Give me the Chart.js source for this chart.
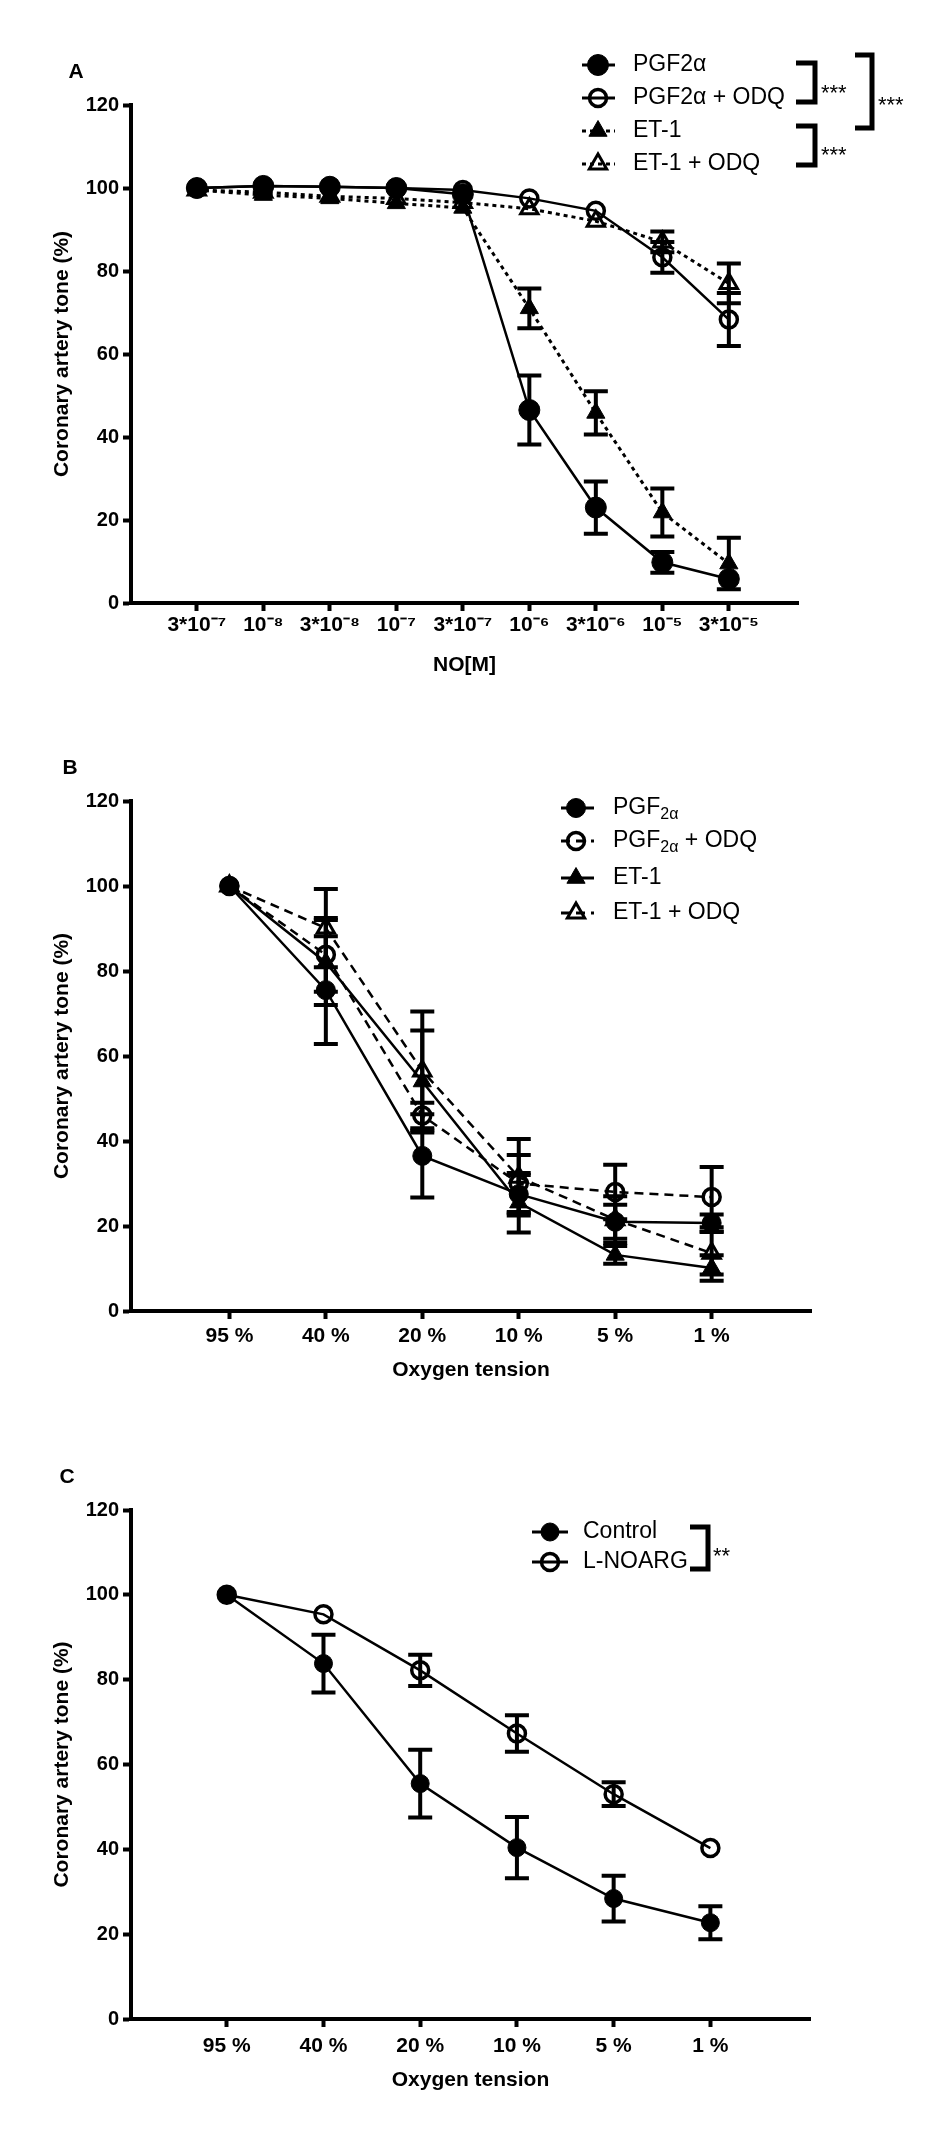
<!DOCTYPE html>
<html>
<head>
<meta charset="utf-8">
<script src="https://cdn.jsdelivr.net/npm/chart.js@4.4.1/dist/chart.umd.min.js"></script>
<style>
  html, body { margin: 0; padding: 0; background: #fff; }
  body { width: 952px; height: 2137px; position: relative; overflow: hidden; }
  .panel { position: absolute; left: 0; width: 952px; }
  canvas { display: block; }
</style>
</head>
<body>
<div class="panel" style="top:0"><canvas id="chartA" width="952" height="700"></canvas></div>
<div class="panel" style="top:700px"><canvas id="chartB" width="952" height="700"></canvas></div>
<div class="panel" style="top:1400px"><canvas id="chartC" width="952" height="737"></canvas></div>
<script>
// ---- tick labels ----
const yTicks = [0, 20, 40, 60, 80, 100, 120];
const doseLabels = ['3*10⁻⁷', '10⁻⁸', '3*10⁻⁸', '10⁻⁷', '3*10⁻⁷', '10⁻⁶', '3*10⁻⁶', '10⁻⁵', '3*10⁻⁵'];
const oxygenLabels = ['95 %', '40 %', '20 %', '10 %', '5 %', '1 %'];

// ---- panel A: tone vs NO, mean and SEM ----
const aPgf       = [100, 100.5, 100.3, 100, 98.5, 46.5, 23, 9.8, 5.8];
const aPgfErr    = [0.5, 0.5, 0.5, 0.5, 0.5, 8.3, 6.3, 2.5, 1];
const aPgfOdq    = [100, 100.5, 100.3, 100, 99.5, 97.5, 94.5, 83.3, 68.3];
const aPgfOdqErr = [0.5, 0.5, 0.5, 0.5, 0.5, 0.8, 1, 3.7, 6.4];
const aEt        = [99.5, 98.3, 97.5, 96.3, 95.2, 71, 45.8, 21.8, 9.5];
const aEtErr     = [0.5, 0.8, 1, 1, 1, 4.8, 5.2, 5.8, 6.2];
const aEtOdq     = [99.5, 99, 98, 97.5, 96.5, 95, 92, 87, 77];
const aEtOdqErr  = [0.5, 0.5, 0.5, 0.8, 1, 1, 1.2, 2.5, 4.8];

// ---- panel B: tone vs oxygen tension ----
const bPgf       = [100, 75.5, 36.5, 27.5, 21, 20.7];
const bPgfErr    = [0.5, 12.7, 9.8, 4.5, 4, 2];
const bPgfOdq    = [100, 83.8, 46, 30, 28, 26.8];
const bPgfOdqErr = [0.5, 8.7, 3, 6.7, 6.4, 7.1];
const bEt        = [100, 82, 54, 25.5, 13.2, 10.1];
const bEtErr     = [0.5, 10, 12, 7, 2.1, 3];
const bEtOdq     = [100, 90.1, 56.5, 31.5, 21.5, 13.6];
const bEtOdqErr  = [0.5, 9.2, 14, 9, 5.5, 5];

// ---- panel C: control vs L-NOARG ----
const cControl    = [100, 83.8, 55.5, 40.4, 28.4, 22.7];
const cControlErr = [0.5, 6.8, 8, 7.2, 5.4, 3.9];
const cNoarg      = [100, 95.4, 82.2, 67.3, 53, 40.3];
const cNoargErr   = [0.5, 0.8, 3.7, 4.3, 2.8, 1];

const INK = '#000';
const NONE = 'rgba(0,0,0,0)';
const FONT = "'Liberation Sans', Arial, Helvetica, sans-serif";
Chart.defaults.font.family = FONT;
Chart.defaults.color = INK;
Chart.defaults.animation = false;

// marker looks
const filledDot = { pointStyle: 'circle', pointRadius: 10.5, pointBackgroundColor: INK, pointBorderWidth: 1 };
const openDot   = { pointStyle: 'circle', pointRadius: 8.5, pointBackgroundColor: NONE, pointBorderWidth: 3.5 };
const filledTri = { pointStyle: 'triangle', pointRadius: 10.5, pointBackgroundColor: INK, pointBorderWidth: 1 };
const openTri   = { pointStyle: 'triangle', pointRadius: 10, pointBackgroundColor: NONE, pointBorderWidth: 3 };

const solid  = { borderWidth: 2.5, borderDash: [] };
const dotted = { borderWidth: 3, borderDash: [4, 4] };
const dashed = { borderWidth: 2.5, borderDash: [9, 6] };

function series(label, values, errors, marker, stroke) {
  return {
    label, errors,
    data: values.map((v, i) => ({ x: i, y: v })),
    borderColor: INK, pointBorderColor: INK,
    fill: false, tension: 0, clip: false,
    ...marker, ...stroke,
  };
}

// ── SEM bars, left out when they would hide behind the marker ──
const CAP = 12;
const errorBars = {
  id: 'errorBars',
  beforeDatasetsDraw(chart) {
    const { ctx, scales: { x, y } } = chart;
    ctx.save();
    ctx.strokeStyle = INK;
    ctx.lineWidth = 4;
    chart.data.datasets.forEach((ds) => {
      ds.data.forEach((pt, i) => {
        const e = ds.errors[i];
        const px = x.getPixelForValue(pt.x);
        const top = y.getPixelForValue(pt.y + e);
        const bot = y.getPixelForValue(pt.y - e);
        if ((bot - top) / 2 < 6) return;
        ctx.beginPath();
        ctx.moveTo(px, top); ctx.lineTo(px, bot);
        ctx.moveTo(px - CAP, top); ctx.lineTo(px + CAP, top);
        ctx.moveTo(px - CAP, bot); ctx.lineTo(px + CAP, bot);
        ctx.stroke();
      });
    });
    ctx.restore();
  },
};

function paintMarker(ctx, m, x, y) {
  const r = m.pointRadius;
  ctx.beginPath();
  if (m.pointStyle === 'triangle') {
    let rad = 0;
    ctx.moveTo(x + Math.sin(rad) * r, y - Math.cos(rad) * r);
    rad += 2 * Math.PI / 3;
    ctx.lineTo(x + Math.sin(rad) * r, y - Math.cos(rad) * r);
    rad += 2 * Math.PI / 3;
    ctx.lineTo(x + Math.sin(rad) * r, y - Math.cos(rad) * r);
    ctx.closePath();
  } else {
    ctx.arc(x, y, r, 0, Math.PI * 2);
  }
  ctx.fillStyle = m.pointBackgroundColor;
  ctx.fill();
  ctx.lineWidth = m.pointBorderWidth;
  ctx.stroke();
}

// ── key box, significance brackets and panel letter ──
function keyBox(spec) {
  return {
    id: 'keyBox',
    afterDraw(chart) {
      const ctx = chart.ctx;
      ctx.save();
      ctx.strokeStyle = INK;
      ctx.fillStyle = INK;
      chart.data.datasets.forEach((ds, k) => {
        const yy = spec.rows[k];
        ctx.setLineDash(ds.borderDash);
        ctx.lineWidth = 3;
        ctx.beginPath();
        ctx.moveTo(spec.lineFrom, yy);
        ctx.lineTo(spec.lineTo, yy);
        ctx.stroke();
        ctx.setLineDash([]);
        paintMarker(ctx, ds, spec.markerX, yy);
        // label, with optional subscript parts
        let tx = spec.textX;
        ctx.fillStyle = INK;
        ctx.textAlign = 'left';
        ctx.textBaseline = 'middle';
        spec.labels[k].forEach((part) => {
          const sub = part.startsWith('_');
          const text = sub ? part.slice(1) : part;
          ctx.font = (sub ? '16px ' : '23px ') + FONT;
          ctx.fillText(text, tx, sub ? yy + 7 : yy);
          tx += ctx.measureText(text).width;
        });
      });
      ctx.lineWidth = 5;
      ctx.lineJoin = 'miter';
      spec.brackets.forEach((b) => {
        ctx.beginPath();
        ctx.moveTo(b.from, b.top);
        ctx.lineTo(b.x, b.top);
        ctx.lineTo(b.x, b.bottom);
        ctx.lineTo(b.from, b.bottom);
        ctx.stroke();
        ctx.font = '22px ' + FONT;
        ctx.textBaseline = 'alphabetic';
        ctx.fillText(b.mark, b.tx, b.ty + 13);
      });
      ctx.font = 'bold 21px ' + FONT;
      ctx.textAlign = 'center';
      ctx.textBaseline = 'middle';
      ctx.fillText(spec.letter, spec.letterX, spec.letterY);
      ctx.restore();
    },
  };
}

function makeChart(id, datasets, ax, spec) {
  const tickGrid = { drawOnChartArea: false, drawTicks: true, tickLength: 8, tickWidth: 4, tickColor: INK };
  const edge = { display: true, color: INK, width: 4 };
  return new Chart(document.getElementById(id), {
    type: 'line',
    data: { datasets },
    options: {
      responsive: false,
      events: [],
      layout: { padding: { top: ax.top, right: 952 - ax.right, left: 0, bottom: 0 } },
      plugins: { legend: { display: false }, tooltip: { enabled: false } },
      scales: {
        x: {
          type: 'linear', min: ax.min, max: ax.max,
          afterBuildTicks: (s) => { s.ticks = ax.labels.map((_, i) => ({ value: i })); },
          afterFit: (s) => { s.height = ax.xHeight; },
          ticks: { callback: (v) => ax.labels[v], font: { size: 21, weight: 'bold' }, padding: ax.tickPad, maxRotation: 0, autoSkip: false },
          grid: tickGrid,
          border: edge,
          title: { display: true, text: ax.title, font: { size: 21, weight: 'bold' }, padding: { top: 0, bottom: ax.titlePad } },
        },
        y: {
          min: 0, max: 120,
          afterBuildTicks: (s) => { s.ticks = yTicks.map((v) => ({ value: v })); },
          afterFit: (s) => { s.width = 131; },
          ticks: { font: { size: 20, weight: 'bold' }, padding: 4 },
          grid: tickGrid,
          border: edge,
          title: { display: true, text: 'Coronary artery tone (%)', font: { size: 21, weight: 'bold' }, padding: { top: 50, bottom: 0 } },
        },
      },
    },
    plugins: [errorBars, keyBox(spec)],
  });
}

makeChart('chartA', [
  series('PGF2α', aPgf, aPgfErr, filledDot, solid),
  series('PGF2α + ODQ', aPgfOdq, aPgfOdqErr, openDot, solid),
  series('ET-1', aEt, aEtErr, filledTri, dotted),
  series('ET-1 + ODQ', aEtOdq, aEtOdqErr, openTri, dotted),
], { labels: doseLabels, min: -0.99, max: 9.04, top: 105, right: 798, xHeight: 97, tickPad: 2, title: 'NO[M]', titlePad: 22 }, {
  labels: [['PGF2α'], ['PGF2α + ODQ'], ['ET-1'], ['ET-1 + ODQ']],
  lineFrom: 582, lineTo: 615, markerX: 598, textX: 633, rows: [65, 98, 131, 164],
  brackets: [
    { x: 815, top: 63, bottom: 102, from: 796, mark: '***', tx: 821, ty: 87 },
    { x: 872, top: 55, bottom: 128, from: 855, mark: '***', tx: 878, ty: 99 },
    { x: 815, top: 126, bottom: 165, from: 796, mark: '***', tx: 821, ty: 149 },
  ],
  letter: 'A', letterX: 76, letterY: 72,
});

makeChart('chartB', [
  series('PGF2α', bPgf, bPgfErr, { ...filledDot, pointRadius: 9.5 }, solid),
  series('PGF2α + ODQ', bPgfOdq, bPgfOdqErr, openDot, dashed),
  series('ET-1', bEt, bEtErr, filledTri, solid),
  series('ET-1 + ODQ', bEtOdq, bEtOdqErr, openTri, dashed),
], { labels: oxygenLabels, min: -1.02, max: 6.03, top: 101, right: 811, xHeight: 89, tickPad: 5, title: 'Oxygen tension', titlePad: 17 }, {
  labels: [['PGF', '_2α'], ['PGF', '_2α', ' + ODQ'], ['ET-1'], ['ET-1 + ODQ']],
  lineFrom: 561, lineTo: 594, markerX: 576, textX: 613, rows: [108, 141, 178, 213],
  brackets: [],
  letter: 'B', letterX: 70, letterY: 68,
});

makeChart('chartC', [
  series('Control', cControl, cControlErr, { ...filledDot, pointRadius: 9 }, solid),
  series('L-NOARG', cNoarg, cNoargErr, openDot, solid),
], { labels: oxygenLabels, min: -0.99, max: 6.03, top: 110, right: 810, xHeight: 118, tickPad: 7, title: 'Oxygen tension', titlePad: 44 }, {
  labels: [['Control'], ['L-NOARG']],
  lineFrom: 532, lineTo: 568, markerX: 550, textX: 583, rows: [132, 162],
  brackets: [{ x: 708, top: 127, bottom: 169, from: 690, mark: '**', tx: 713, ty: 150 }],
  letter: 'C', letterX: 67, letterY: 77,
});
</script>
</body>
</html>
